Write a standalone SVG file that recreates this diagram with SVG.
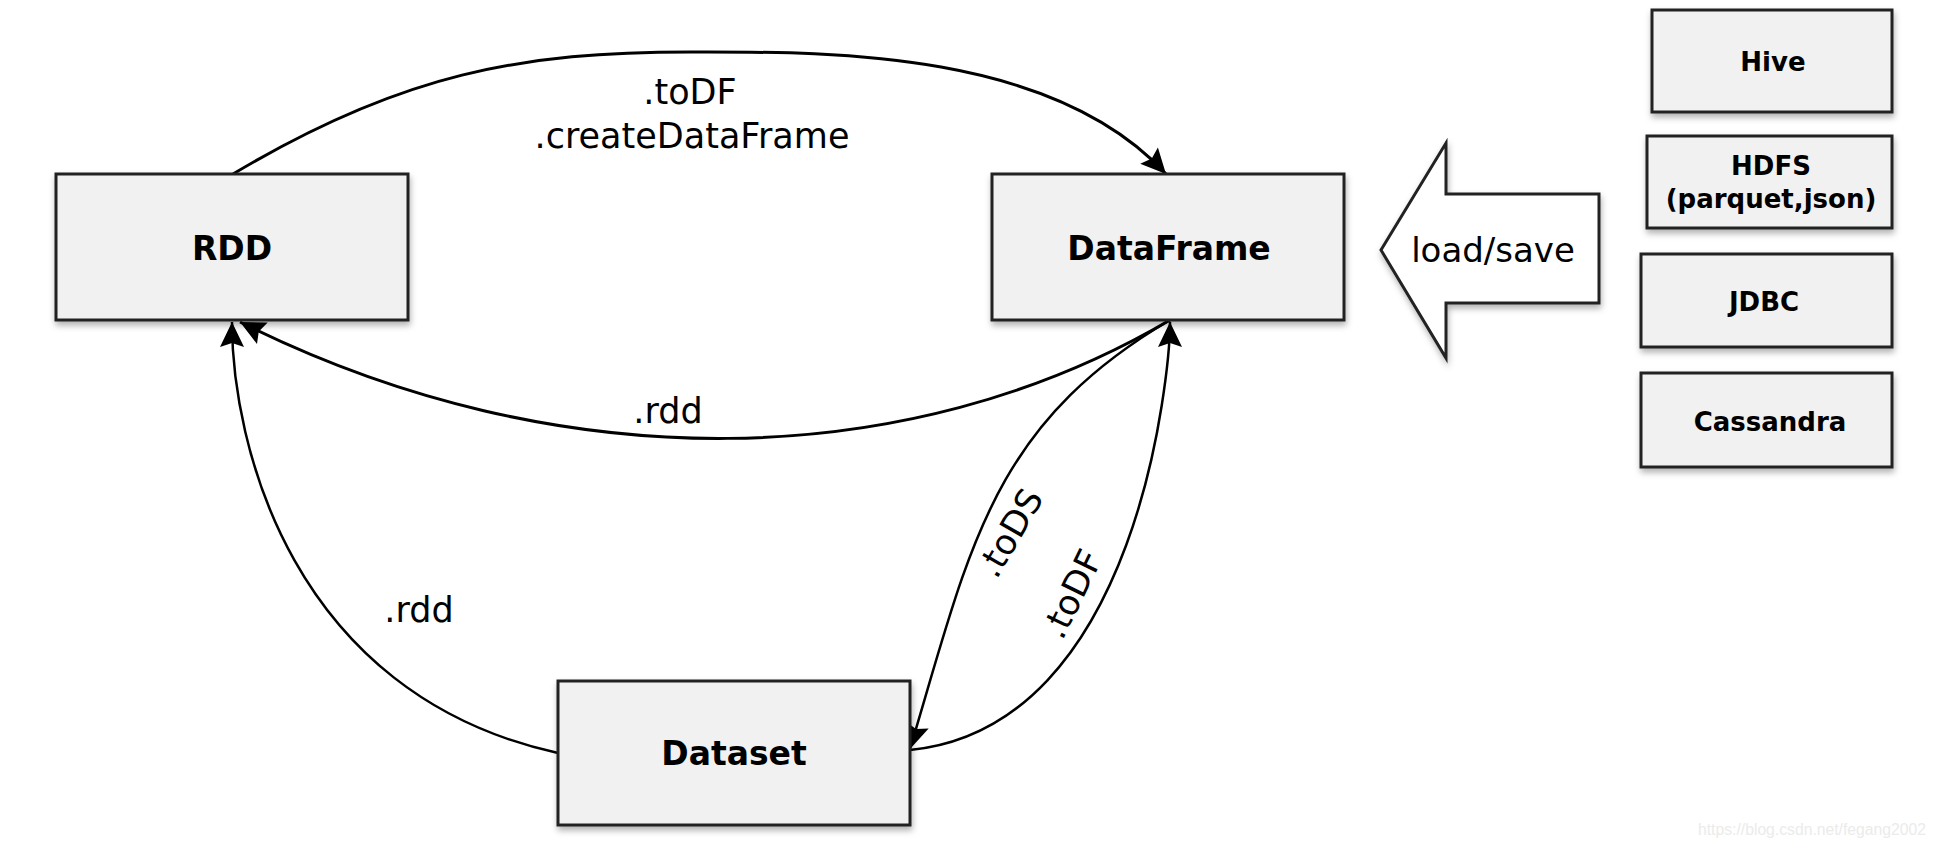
<svg xmlns="http://www.w3.org/2000/svg" width="1936" height="848" viewBox="0 0 1936 848">
  <defs>
    <filter id="shadow" x="-10%" y="-10%" width="130%" height="140%">
      <feDropShadow dx="1" dy="4" stdDeviation="3" flood-color="#000" flood-opacity="0.3"/>
    </filter>
    <marker id="arrow" viewBox="-26 -13 27 26" refX="0" refY="0" markerWidth="27" markerHeight="26" markerUnits="userSpaceOnUse" orient="auto">
      <path d="M0,0 L-25,-12 L-21,0 L-25,12 Z" fill="#000"/>
    </marker>
    <style>
      .box { fill: #f1f1f1; stroke: #222; stroke-width: 3; filter: url(#shadow); }
      .lbl { font-family: "DejaVu Sans", "Liberation Sans", sans-serif; font-weight: bold; fill: #000; text-anchor: middle; }
      .big { font-size: 33px; }
      .small { font-size: 26px; }
      .edge { fill: none; stroke: #000; stroke-width: 3; marker-end: url(#arrow); }
      .thin { stroke-width: 2.5; }
      .elbl { font-family: "DejaVu Sans", "Liberation Sans", sans-serif; font-size: 35px; fill: #000; text-anchor: middle; }
    </style>
  </defs>
  <rect width="1936" height="848" fill="#fff"/>

  <g id="connectors">
    <path id="e-rdd-df" class="edge" d="M233,174 C402,73 522,52 691,52 C820,52 1050,48 1166,174"/>
    <path id="e-df-rdd" class="edge" d="M1170,320 C910,473 560,482 240,322"/>
    <path id="e-ds-rdd" class="edge thin" d="M558,753 C290,694 232,442 232,322"/>
    <path id="e-df-ds" class="edge thin" d="M1170,320 C990,426 970,549 910,749"/>
    <path id="e-ds-df" class="edge thin" d="M910,750 C1140,727 1170,369 1170,322"/>
  </g>

  <g id="connector-labels">
    <text class="elbl" x="690" y="104">.toDF</text>
    <text class="elbl" x="692" y="148">.createDataFrame</text>
    <text class="elbl" x="668" y="423">.rdd</text>
    <text class="elbl" x="419" y="622">.rdd</text>
    <text class="elbl" transform="translate(1010,533) rotate(-60)" x="0" y="12">.toDS</text>
    <text class="elbl" transform="translate(1072,594) rotate(-64)" x="0" y="12">.toDF</text>
  </g>

  <g id="rdd">
    <rect class="box" x="56" y="174" width="352" height="146"/>
    <text class="lbl big" x="232" y="260">RDD</text>
  </g>
  <g id="dataframe">
    <rect class="box" x="992" y="174" width="352" height="146"/>
    <text class="lbl big" x="1169" y="260">DataFrame</text>
  </g>
  <g id="dataset">
    <rect class="box" x="558" y="681" width="352" height="144"/>
    <text class="lbl big" x="734" y="765">Dataset</text>
  </g>

  <g id="load-save">
    <path d="M1381,250 L1446,143 L1446,194 L1599,194 L1599,303 L1446,303 L1446,358 Z" fill="#fff" stroke="#222" stroke-width="3" stroke-linejoin="miter" filter="url(#shadow)"/>
    <text class="elbl" x="1493" y="262" style="font-size:34px">load/save</text>
  </g>

  <g id="hive">
    <rect class="box" x="1652" y="10" width="240" height="102"/>
    <text class="lbl small" x="1773" y="71">Hive</text>
  </g>
  <g id="hdfs">
    <rect class="box" x="1647" y="136" width="245" height="92"/>
    <text class="lbl small" x="1771" y="175">HDFS</text>
    <text class="lbl small" x="1771" y="208">(parquet,json)</text>
  </g>
  <g id="jdbc">
    <rect class="box" x="1641" y="254" width="251" height="93"/>
    <text class="lbl small" x="1764" y="311">JDBC</text>
  </g>
  <g id="cassandra">
    <rect class="box" x="1641" y="373" width="251" height="94"/>
    <text class="lbl small" x="1770" y="431">Cassandra</text>
  </g>

  <text x="1698" y="835" font-family="Liberation Sans, Arial, sans-serif" font-size="16" fill="#ebebeb" textLength="228" lengthAdjust="spacingAndGlyphs">https://blog.csdn.net/fegang2002</text>
</svg>
